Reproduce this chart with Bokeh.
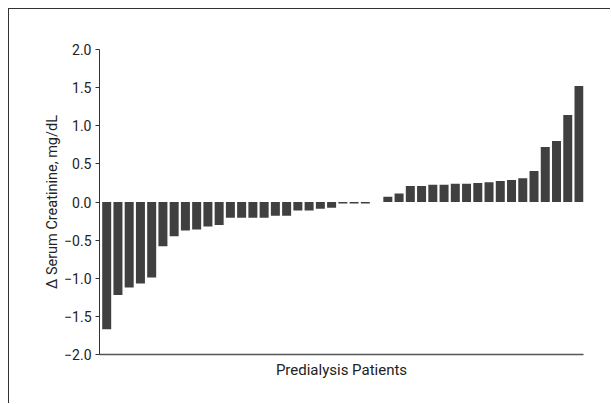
from bokeh.plotting import figure
from bokeh.models import ColumnDataSource, Range1d, FixedTicker, CustomJSTickFormatter
from bokeh.embed import file_html
from bokeh.resources import INLINE

# Change in serum creatinine per predialysis patient, sorted ascending
values = [-1.67, -1.22, -1.12, -1.07, -0.99, -0.58, -0.45, -0.375, -0.36, -0.32,
          -0.30, -0.205, -0.205, -0.205, -0.205, -0.18, -0.18, -0.11, -0.11, -0.087,
          -0.074, -0.02, -0.02, -0.02, 0.0, 0.07, 0.11, 0.21, 0.21, 0.225,
          0.225, 0.24, 0.24, 0.25, 0.26, 0.275, 0.29, 0.31, 0.405, 0.72,
          0.80, 1.14, 1.52]
patients = list(range(len(values)))
y_ticks = [-2.0, -1.5, -1.0, -0.5, 0.0, 0.5, 1.0, 1.5, 2.0]
y_title = "\u0394 Serum Creatinine, mg/dL"
x_title = "Predialysis Patients"

FONT = "Roboto"
BAR = "#404040"
INK = "#333333"

src = ColumnDataSource(dict(x=patients, top=values))

p = figure(width=602, height=395, output_backend="svg", toolbar_location=None,
           x_range=Range1d(-0.64, len(values) - 0.6), y_range=Range1d(-2.0, 2.0),
           min_border_left=90, min_border_top=40, min_border_right=28, min_border_bottom=50)
p.styles = {"margin-left": "8px", "margin-top": "8px",
            "border-top": "1px solid #333333", "border-left": "1px solid #333333"}
p.outline_line_color = None
p.background_fill_color = "white"
p.border_fill_color = "white"
p.xgrid.grid_line_color = None
p.ygrid.grid_line_color = None

p.vbar(x="x", top="top", bottom=0, width=0.8, source=src,
       fill_color=BAR, line_color=None)

ya = p.yaxis[0]
ya.ticker = FixedTicker(ticks=y_ticks)
ya.formatter = CustomJSTickFormatter(code="return (tick < 0 ? '\\u2212' : '') + Math.abs(tick).toFixed(1);")
ya.minor_tick_line_color = None
ya.major_tick_in = 0
ya.major_tick_out = 4
ya.axis_line_color = INK
ya.major_tick_line_color = INK
ya.major_label_text_font = FONT
ya.major_label_text_font_size = "14px"
ya.major_label_text_color = "#222222"
ya.major_label_standoff = 4
ya.axis_label = y_title
ya.axis_label_text_font = FONT
ya.axis_label_text_font_style = "normal"
ya.axis_label_text_font_size = "14.5px"
ya.axis_label_text_color = "#222222"
ya.axis_label_standoff = 0

xa = p.xaxis[0]
xa.ticker = FixedTicker(ticks=[])
xa.major_tick_line_color = None
xa.minor_tick_line_color = None
xa.axis_line_color = "#555555"
xa.axis_line_width = 1.5
xa.axis_label = x_title
xa.axis_label_text_font = FONT
xa.axis_label_text_font_style = "normal"
xa.axis_label_text_font_size = "15px"
xa.axis_label_text_color = "#222222"
xa.axis_label_standoff = 6

open("out.html", "w").write(file_html(p, INLINE))
